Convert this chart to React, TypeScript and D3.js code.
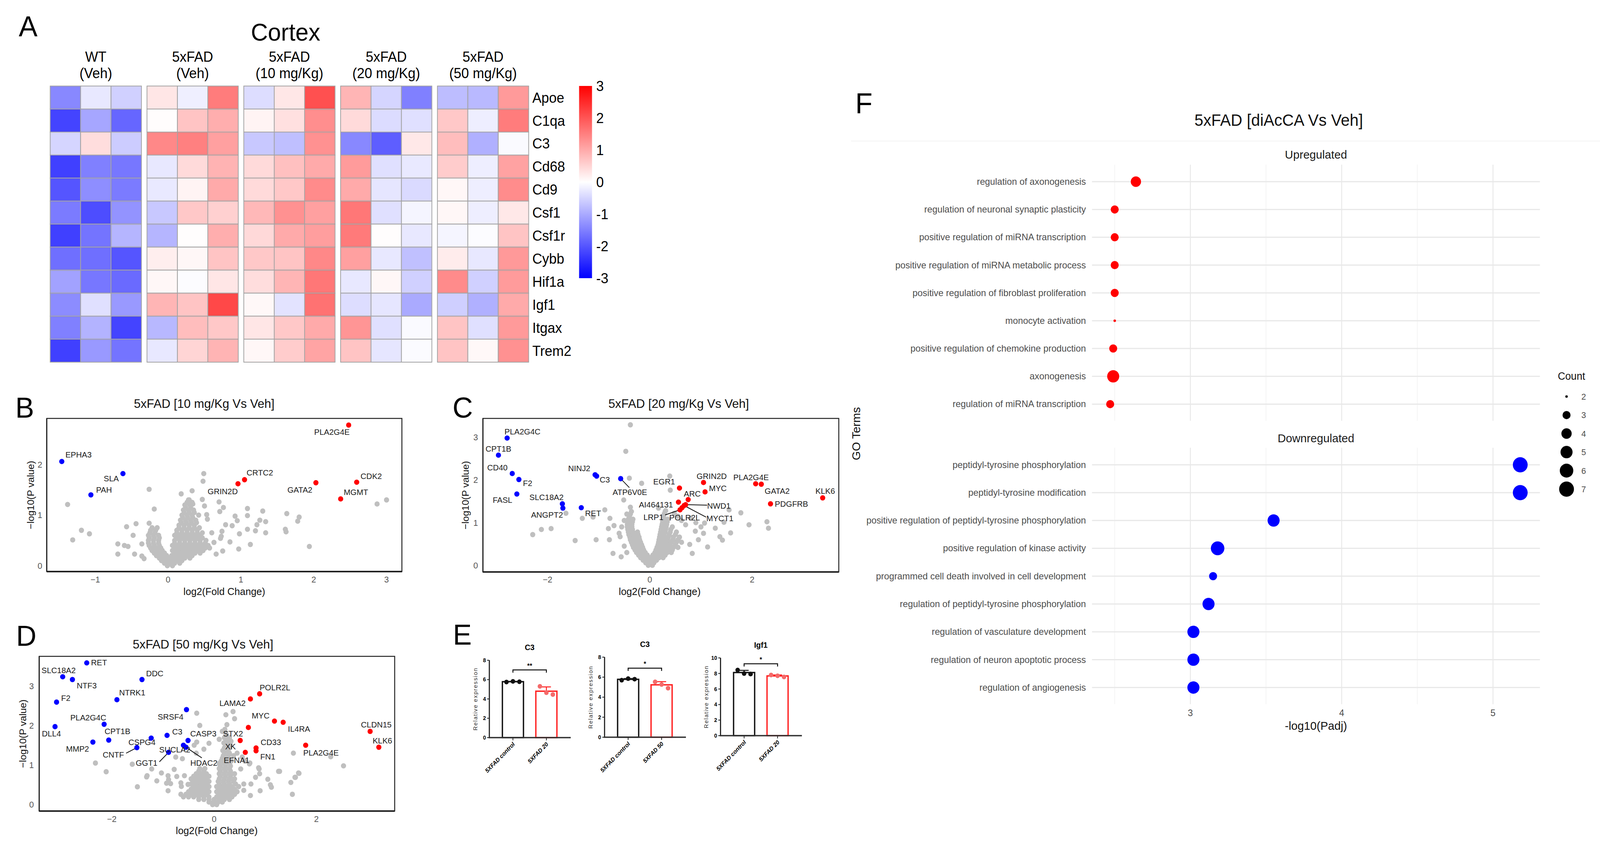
import * as d3 from "d3";

const FONT = "'Liberation Sans', Arial, Helvetica, sans-serif";

// ---------------- A: heatmap (row z-scores) ----------------
const genes = ["Apoe", "C1qa", "C3", "Cd68", "Cd9", "Csf1", "Csf1r", "Cybb", "Hif1a", "Igf1", "Itgax", "Trem2"];
const groupLine1 = ["WT", "5xFAD", "5xFAD", "5xFAD", "5xFAD"];
const groupLine2 = ["(Veh)", "(Veh)", "(10 mg/Kg)", "(20 mg/Kg)", "(50 mg/Kg)"];
// 15 samples per gene: 3 per group in the order above
const zscores = [
  [-1.4, -0.27, -0.55, 0.3, -0.19, 1.54, -0.4, 0.28, 2.06, 0.87, -0.5, -1.5, -0.78, -0.82, 1.19],
  [-2.2, -1.05, -1.8, 0.02, 0.7, 0.95, 0.13, 0.36, 1.33, 0.43, -0.41, -0.36, 0.65, -0.2, 1.54],
  [-0.5, 0.4, -0.6, 1.4, 1.5, 1.12, -0.65, -0.75, 1.3, -1.4, -1.9, 0.27, 0.78, -0.93, -0.06],
  [-2.25, -1.5, -1.6, -0.27, 0.43, 0.9, 0.43, 0.74, 1.0, 1.18, -0.36, -0.26, 0.6, -0.2, 1.1],
  [-2.0, -1.33, -1.55, -0.26, 0.13, 1.0, 0.43, 0.65, 1.37, 1.0, -0.3, -0.43, 0.1, -0.2, 1.35],
  [-1.55, -2.1, -1.27, -0.65, 0.65, 0.55, 0.83, 1.3, 1.12, 1.6, -0.36, -0.12, 0.1, -0.2, 0.27],
  [-2.25, -1.64, -0.87, -0.87, 0.02, 0.95, 0.45, 1.0, 1.14, 1.56, 0.02, -0.27, -0.12, -0.03, 0.7],
  [-1.7, -1.7, -2.0, 0.2, 0.1, 0.7, 0.65, 0.7, 1.4, 1.12, -0.27, -0.74, 0.22, -0.27, 1.2],
  [-1.1, -1.6, -1.75, 0.1, -0.03, 0.3, 0.4, 0.87, 1.6, -0.27, 0.1, -0.55, 1.37, -0.55, 1.18],
  [-1.35, -0.36, -1.2, 0.87, 0.7, 2.15, 0.08, -0.33, 1.66, -0.4, -0.3, -1.0, -0.56, -0.93, 1.0],
  [-1.5, -0.9, -2.2, -0.83, 0.78, 0.65, 0.3, 0.65, 1.0, 1.25, -0.36, -0.06, 0.7, -0.36, 1.19],
  [-2.25, -1.2, -1.64, -0.27, 0.5, 0.88, 0.1, 0.6, 1.07, 0.7, -0.3, -0.05, 0.7, 0.08, 1.3],
];
const legendTicks = [3, 2, 1, 0, -1, -2, -3];

// ---------------- B/C/D: volcano plots ----------------
// [gene, log2FC, -log10 P]
const hitsB = [
  ["PLA2G4E", 2.48, 2.78], ["EPHA3", -1.46, 2.06], ["SLA", -0.62, 1.82], ["PAH", -1.06, 1.4],
  ["CRTC2", 1.05, 1.7], ["GRIN2D", 0.96, 1.62], ["GATA2", 2.03, 1.64], ["CDK2", 2.59, 1.65], ["MGMT", 2.37, 1.32],
];
const grayB = [
  [0.49, 1.82], [0.48, 1.67], [-0.26, 1.51], [0.33, 1.48], [0.18, 1.42], [-1.38, 1.21], [-0.19, 1.12], [0.7, 1.26],
  [0.47, 1.31], [1.09, 1.13], [1.09, 0.99], [1.3, 1.08], [1.63, 1.03], [1.8, 0.96], [1.78, 0.88], [2.87, 1.22],
  [3.0, 1.3], [-0.44, 0.83], [-0.26, 0.84], [-0.57, 0.77], [-1.19, 0.7], [-1.08, 0.63], [-1.31, 0.51], [-0.48, 0.6],
  [-0.69, 0.43], [-0.69, 0.23], [-0.36, 0.43], [1.61, 0.72], [1.62, 0.67], [1.34, 0.65], [1.34, 0.87], [1.26, 0.9],
  [1.22, 0.81], [1.2, 0.69], [1.09, 0.72], [0.98, 0.63], [0.97, 0.33], [0.85, 0.47], [1.13, 0.42], [1.94, 0.38],
  [0.92, 0.98], [0.95, 0.89], [0.79, 0.81], [0.88, 0.79], [0.74, 0.68], [0.73, 0.58], [0.76, 1.15], [0.71, 1.07],
  [0.5, 1.18], [0.53, 1.01], [0.54, 0.92], [0.6, 0.65], [0.72, 0.54], [0.63, 0.46], [0.75, 0.29], [0.66, 0.23],
  [0.57, 0.35], [0.34, 1.22], [0.28, 1.3], [-0.55, 0.38], [-0.46, 0.23], [-0.36, 0.19], [-0.33, 0.14], [-0.6, 0.4],
];
// dense centre of the cloud, row by row: [-log10 P, log2FC values]
const cloudB = [
  [0.0, [-0.01, 0.06]],
  [0.05, [-0.05, 0.02, 0.09, 0.16]],
  [0.1, [-0.09, -0.02, 0.05, 0.12, 0.19]],
  [0.15, [-0.12, -0.05, 0.02, 0.09, 0.16, 0.23, 0.3]],
  [0.2, [-0.16, -0.09, -0.02, 0.05, 0.12, 0.19, 0.26, 0.33]],
  [0.25, [-0.19, -0.12, -0.05, 0.09, 0.16, 0.23, 0.3, 0.37, 0.44]],
  [0.3, [-0.22, -0.15, -0.08, 0.06, 0.13, 0.2, 0.27, 0.34, 0.41, 0.48]],
  [0.35, [-0.24, -0.17, -0.1, 0.09, 0.16, 0.23, 0.3, 0.37, 0.44, 0.51]],
  [0.4, [-0.26, -0.19, -0.12, 0.06, 0.13, 0.2, 0.27, 0.34, 0.41, 0.48, 0.55]],
  [0.45, [-0.27, -0.2, -0.13, 0.09, 0.16, 0.23, 0.3, 0.37, 0.44, 0.51]],
  [0.5, [-0.27, -0.2, -0.13, 0.09, 0.16, 0.23, 0.3, 0.37, 0.44, 0.52]],
  [0.55, [-0.26, -0.19, -0.12, 0.12, 0.19, 0.26, 0.33, 0.4, 0.47]],
  [0.6, [-0.27, -0.2, -0.13, 0.09, 0.16, 0.23, 0.3, 0.37, 0.44]],
  [0.65, [-0.25, -0.18, 0.12, 0.19, 0.26, 0.33, 0.4, 0.47]],
  [0.7, [-0.24, -0.17, 0.12, 0.19, 0.26, 0.33, 0.4]],
  [0.75, [-0.22, -0.15, 0.15, 0.22, 0.29, 0.36, 0.43]],
  [0.8, [0.15, 0.22, 0.29, 0.36]],
  [0.85, [0.18, 0.25, 0.32, 0.39]],
  [0.9, [0.17, 0.24, 0.31, 0.38]],
  [0.95, [0.2, 0.27, 0.34]],
  [1.0, [0.19, 0.26, 0.33, 0.42]],
  [1.05, [0.22, 0.29, 0.36]],
  [1.1, [0.21, 0.28, 0.35]],
  [1.15, [0.24, 0.31]],
  [1.2, [0.23, 0.3]],
  [1.25, [0.26, 0.33]],
  [1.3, [0.29]],
];

const hitsC = [
  ["PLA2G4C", -2.79, 2.98], ["CPT1B", -2.96, 2.58], ["CD40", -2.69, 2.15], ["F2", -2.56, 2.01], ["FASL", -2.6, 1.67],
  ["SLC18A2", -1.71, 1.44], ["ANGPT2", -1.7, 1.34], ["RET", -1.34, 1.35], ["NINJ2", -1.07, 2.12], ["C3", -1.04, 2.09],
  ["ATP6V0E", -0.57, 2.03], ["EGR1", 0.58, 1.81], ["GRIN2D", 1.05, 1.94], ["MYC", 1.08, 1.72], ["PLA2G4E", 2.07, 1.91],
  ["GATA2", 2.18, 1.9], ["KLK6", 3.38, 1.58], ["PDGFRB", 2.36, 1.44], ["ARC", 0.75, 1.54], ["AI464131", 0.56, 1.48],
  ["NWD1", 0.7, 1.42], ["LRP1", 0.59, 1.3], ["POLR2L", 0.63, 1.35], ["MYCT1", 0.67, 1.4],
];
const grayC = [
  [-0.38, 3.29], [-0.47, 2.67], [-0.4, 2.04], [-0.16, 1.92], [0.39, 2.09], [0.4, 1.76], [-0.51, 1.53], [-1.64, 1.22],
  [-1.32, 1.1], [-0.88, 1.3], [-0.78, 1.1], [-0.7, 0.93], [-0.81, 0.86], [-2.12, 0.84], [-1.93, 0.86], [-2.29, 0.72],
  [-1.46, 0.58], [-1.05, 0.6], [-0.79, 0.6], [-1.11, 1.13], [1.55, 1.3], [1.78, 1.23], [1.94, 0.95], [2.29, 1.02],
  [2.32, 0.87], [1.58, 0.76], [1.42, 0.59], [1.37, 0.67], [1.28, 0.87], [1.45, 1.01], [1.07, 0.99], [1.13, 0.43],
  [0.89, 0.8], [0.83, 0.28], [0.78, 0.49], [-0.72, 0.28], [-0.56, 0.2], [-0.58, 0.67], [0.17, 1.34], [0.31, 1.28],
  [-0.38, 1.36], [0.55, 1.15], [0.62, 1.05], [0.7, 0.95], [0.48, 1.22], [0.8, 1.1], [0.9, 1.0], [1.0, 0.9],
  [0.95, 0.6], [1.05, 0.75], [-0.45, 1.2], [-0.5, 1.05], [-0.55, 0.9], [-0.6, 0.75], [-0.5, 0.45], [-0.45, 0.3],
];
const cloudC = [
  [0.0, [-0.03, 0.05]],
  [0.06, [-0.08, 0.0, 0.08]],
  [0.12, [-0.13, -0.05, 0.05, 0.13]],
  [0.18, [-0.18, -0.1, 0.0, 0.1, 0.18, 0.26]],
  [0.24, [-0.22, -0.13, -0.05, 0.06, 0.14, 0.22, 0.3]],
  [0.3, [-0.26, -0.17, -0.09, 0.1, 0.18, 0.26, 0.34, 0.42]],
  [0.36, [-0.29, -0.2, -0.12, 0.12, 0.2, 0.28, 0.36, 0.44]],
  [0.42, [-0.32, -0.23, -0.14, 0.14, 0.22, 0.3, 0.38, 0.46, 0.55]],
  [0.48, [-0.34, -0.25, -0.16, 0.16, 0.24, 0.32, 0.4, 0.5]],
  [0.54, [-0.36, -0.27, -0.18, 0.17, 0.25, 0.33, 0.42, 0.52, 0.62]],
  [0.6, [-0.38, -0.29, -0.2, 0.18, 0.26, 0.35, 0.45, 0.55]],
  [0.66, [-0.39, -0.3, -0.21, 0.19, 0.27, 0.36, 0.46, 0.58]],
  [0.72, [-0.41, -0.32, -0.23, 0.2, 0.28, 0.38, 0.5]],
  [0.78, [-0.42, -0.33, -0.24, 0.21, 0.3, 0.4, 0.52]],
  [0.84, [-0.43, -0.34, 0.22, 0.31, 0.41]],
  [0.9, [-0.44, -0.35, 0.23, 0.32, 0.44]],
  [0.96, [-0.44, -0.35, 0.24, 0.33]],
  [1.02, [-0.43, -0.34, 0.25, 0.34]],
  [1.08, [-0.42, -0.33, 0.26, 0.35]],
  [1.14, [-0.4, 0.27]],
  [1.2, [-0.38, 0.28]],
  [1.26, [-0.36, 0.3]],
];

const hitsD = [
  ["RET", -2.49, 3.58], ["SLC18A2", -2.96, 3.23], ["NTF3", -2.77, 3.16], ["DDC", -1.41, 3.16], ["NTRK1", -1.9, 2.65],
  ["F2", -3.08, 2.59], ["SRSF4", -0.54, 2.4], ["PLA2G4C", -2.15, 2.03], ["DLL4", -3.11, 1.97], ["C3", -0.92, 1.75],
  ["CPT1B", -2.06, 1.63], ["CSPG4", -1.23, 1.68], ["MMP2", -2.37, 1.58], ["CASP3", -0.51, 1.62], ["CNTF", -1.51, 1.44],
  ["SUCLA2", -0.6, 1.5], ["HDAC2", -0.55, 1.45], ["GGT1", -0.89, 1.32],
  ["POLR2L", 0.89, 2.8], ["LAMA2", 0.71, 2.67], ["MYC", 1.18, 2.11], ["IL4RA", 1.35, 2.08], ["STX2", 0.67, 1.95],
  ["CLDN15", 3.05, 1.85], ["KLK6", 3.22, 1.45], ["XK", 0.51, 1.62], ["CD33", 0.82, 1.43], ["FN1", 0.82, 1.36],
  ["EFNA1", 0.61, 1.32], ["PLA2G4E", 1.79, 1.5],
];
const grayD = [
  [-0.34, 2.31], [0.23, 2.27], [0.37, 2.35], [0.4, 2.17], [-0.28, 2.0], [0.25, 2.02], [0.21, 1.9], [-2.32, 1.05],
  [-2.11, 0.83], [-1.6, 1.02], [-1.22, 0.9], [-1.32, 0.7], [-1.03, 0.8], [-1.12, 0.6], [-0.75, 1.2], [-0.62, 1.16],
  [1.55, 1.3], [2.28, 1.21], [2.53, 0.98], [1.65, 0.8], [1.58, 0.69], [1.26, 0.84], [1.05, 0.64], [0.87, 0.93],
  [0.7, 1.05], [-1.31, 0.73], [-0.89, 0.63], [-0.64, 0.46], [1.5, 0.56], [0.16, 1.85], [0.25, 1.75], [0.1, 1.65],
  [0.33, 1.6], [-0.1, 1.55], [-0.2, 1.4], [0.45, 1.3], [0.55, 1.2], [0.6, 1.1], [-0.35, 1.3], [1.1, 0.5],
  [0.9, 0.35], [-0.9, 0.35], [-1.5, 0.45], [-0.78, 0.89], [-0.9, 0.73], [-0.73, 0.71], [-0.58, 0.73], [-0.93, 0.54],
  [-0.85, 0.53], [-0.65, 0.55], [-0.51, 0.51], [0.88, 0.9], [0.89, 0.78], [0.81, 0.69], [1.12, 0.44], [1.28, 0.84],
  [1.59, 0.69], [1.66, 0.79], [1.53, 0.26], [0.71, 0.23], [0.58, 0.36], [0.72, 0.52], [0.58, 0.52], [0.52, 0.9],
  [0.69, 1.03], [-0.39, 1.5], [-0.34, 1.58],
];
const cloudD = [
  [0.0, [-0.03, 0.05]],
  [0.065, [-0.1, -0.01, 0.08, 0.16]],
  [0.13, [-0.3, -0.2, -0.1, 0.0, 0.1, 0.2, 0.3]],
  [0.195, [-0.6, -0.5, -0.4, -0.3, -0.2, -0.1, 0.05, 0.15, 0.25, 0.35]],
  [0.26, [-0.65, -0.55, -0.45, -0.35, -0.25, -0.15, 0.1, 0.2, 0.3, 0.4]],
  [0.325, [-0.5, -0.4, -0.3, -0.2, -0.1, 0.05, 0.15, 0.25, 0.35, 0.45]],
  [0.39, [-0.45, -0.35, -0.25, -0.15, 0.1, 0.2, 0.3, 0.4]],
  [0.455, [-0.4, -0.3, -0.2, -0.1, 0.05, 0.15, 0.25, 0.35, 0.48]],
  [0.52, [-0.45, -0.35, -0.25, -0.15, 0.1, 0.2, 0.3, 0.42]],
  [0.585, [-0.4, -0.3, -0.2, -0.1, 0.08, 0.18, 0.28, 0.38]],
  [0.65, [-0.45, -0.35, -0.25, -0.15, 0.1, 0.2, 0.3, 0.4]],
  [0.715, [-0.4, -0.3, -0.2, -0.1, 0.12, 0.22, 0.32]],
  [0.78, [-0.35, -0.25, -0.15, 0.1, 0.2, 0.3, 0.4]],
  [0.845, [-0.3, -0.2, 0.12, 0.22, 0.32]],
  [0.91, [-0.28, -0.18, 0.1, 0.2, 0.3]],
  [0.975, [0.12, 0.22, 0.32]],
  [1.04, [0.1, 0.2, 0.3]],
  [1.105, [0.14, 0.24, 0.34]],
  [1.17, [0.16, 0.26]],
  [1.235, [0.18, 0.28, 0.38]],
  [1.3, [0.2, 0.3]],
  [1.365, [0.17, 0.27]],
  [1.43, [0.2, 0.3]],
  [1.495, [0.22, 0.32]],
  [1.56, [0.19, 0.29]],
  [1.625, [0.24]],
  [1.69, [0.2, 0.3]],
  [1.82, [0.22]],
];

// label anchor points (data units) and leader-line starts
const labelsB = {
  PLA2G4E: [2.25, 2.64], EPHA3: [-1.23, 2.19], SLA: [-0.78, 1.72], PAH: [-0.88, 1.5], CRTC2: [1.26, 1.84],
  GRIN2D: [0.75, 1.47], GATA2: [1.81, 1.5], CDK2: [2.79, 1.77], MGMT: [2.58, 1.45],
};
const labelsC = {
  PLA2G4C: [-2.49, 3.13], CPT1B: [-2.96, 2.73], CD40: [-2.98, 2.29], F2: [-2.39, 1.92], FASL: [-2.88, 1.53],
  SLC18A2: [-2.02, 1.59], ANGPT2: [-2.01, 1.18], RET: [-1.11, 1.22], NINJ2: [-1.38, 2.27], C3: [-0.88, 2.0],
  ATP6V0E: [-0.39, 1.71], EGR1: [0.28, 1.96], GRIN2D: [1.21, 2.09], MYC: [1.33, 1.8], PLA2G4E: [1.98, 2.06],
  GATA2: [2.49, 1.74], KLK6: [3.43, 1.74], PDGFRB: [2.77, 1.44], ARC: [0.83, 1.67], AI464131: [0.12, 1.42],
  NWD1: [1.35, 1.39], LRP1: [0.07, 1.13], POLR2L: [0.68, 1.12], MYCT1: [1.37, 1.1],
};
const leadersC = [["ATP6V0E", -0.4, 1.82], ["NWD1", 1.12, 1.41], ["LRP1", 0.3, 1.18], ["MYCT1", 1.1, 1.13]];
const labelsD = {
  RET: [-2.25, 3.59], SLC18A2: [-3.04, 3.39], NTF3: [-2.49, 3.01], DDC: [-1.16, 3.31], NTRK1: [-1.6, 2.83],
  F2: [-2.9, 2.69], SRSF4: [-0.85, 2.22], PLA2G4C: [-2.46, 2.2], DLL4: [-3.18, 1.79], C3: [-0.72, 1.84],
  CPT1B: [-1.89, 1.85], CSPG4: [-1.41, 1.57], CASP3: [-0.21, 1.79], MMP2: [-2.67, 1.41], CNTF: [-1.97, 1.26],
  SUCLA2: [-0.77, 1.39], GGT1: [-1.32, 1.05], HDAC2: [-0.2, 1.05], POLR2L: [1.19, 2.96], LAMA2: [0.36, 2.56],
  MYC: [0.91, 2.25], IL4RA: [1.66, 1.91], STX2: [0.37, 1.79], CLDN15: [3.17, 2.02], KLK6: [3.29, 1.61],
  XK: [0.32, 1.47], CD33: [1.11, 1.57], EFNA1: [0.44, 1.12], FN1: [1.05, 1.21], PLA2G4E: [2.09, 1.31],
};
const leadersD = [["CNTF", -1.72, 1.3], ["GGT1", -1.07, 1.08], ["HDAC2", -0.24, 1.18]];

// ---------------- E: qPCR bars ----------------
const qpcrTitles = ["C3", "C3", "Igf1"];
const qpcrGroups = [
  ["5XFAD control", "5XFAD 20"],
  ["5XFAD control", "5XFAD 50"],
  ["5XFAD control", "5XFAD 20"],
];
const qpcrControl = [[5.75, 5.82, 5.78], [5.7, 5.85, 5.8], [8.44, 7.99, 7.93]];
const qpcrTreated = [[5.3, 4.65, 4.45], [5.53, 5.27, 4.9], [7.8, 7.7, 7.55]];
const qpcrMax = [8, 8, 10];
const qpcrSig = ["**", "*", "*"];
const qpcrBracket = [7.0, 6.9, 9.25];

// ---------------- F: GO enrichment ----------------
const upTerms = [
  "regulation of axonogenesis", "regulation of neuronal synaptic plasticity", "positive regulation of miRNA transcription",
  "positive regulation of miRNA metabolic process", "positive regulation of fibroblast proliferation", "monocyte activation",
  "positive regulation of chemokine production", "axonogenesis", "regulation of miRNA transcription",
];
const upPadj = [2.64, 2.5, 2.5, 2.5, 2.5, 2.5, 2.49, 2.49, 2.47];
const upCount = [4, 3, 3, 3, 3, 2, 3, 5, 3];
const downTerms = [
  "peptidyl-tyrosine phosphorylation", "peptidyl-tyrosine modification", "positive regulation of peptidyl-tyrosine phosphorylation",
  "positive regulation of kinase activity", "programmed cell death involved in cell development",
  "regulation of peptidyl-tyrosine phosphorylation", "regulation of vasculature development",
  "regulation of neuron apoptotic process", "regulation of angiogenesis",
];
const downPadj = [5.18, 5.18, 3.55, 3.18, 3.15, 3.12, 3.02, 3.02, 3.02];
const downCount = [7, 7, 5, 6, 3, 5, 5, 5, 5];
const countBreaks = [2, 3, 4, 5, 6, 7];

function Heatmap() {
  const gx = d3.scaleBand().domain(d3.range(5)).range([132, 1390.4]).paddingInner(0.0574);
  const cx = d3.scaleBand().domain(d3.range(3)).range([0, gx.bandwidth()]);
  const ry = d3.scaleBand().domain(genes).range([220.2, 927]);
  const color = d3.scaleLinear().domain([-3, 0, 3]).range(["#0000ff", "#ffffff", "#ff0000"]);
  const ly = d3.scaleLinear().domain([-3, 3]).range([712, 220]);
  return (
    <g fontFamily={FONT}>
      <defs>
        <linearGradient id="hmgrad" x1="0" y1="0" x2="0" y2="1">
          <stop offset="0%" stopColor="#ff0000" />
          <stop offset="50%" stopColor="#ffffff" />
          <stop offset="100%" stopColor="#0000ff" />
        </linearGradient>
      </defs>
      <text x={751} y={104} fontSize={62} textAnchor="middle">Cortex</text>
      {groupLine1.map((t, g) => (
        <g key={g}>
          <text x={gx(g) + gx.bandwidth() / 2} y={158} fontSize={36} textAnchor="middle">{t}</text>
          <text x={gx(g) + gx.bandwidth() / 2} y={200} fontSize={36} textAnchor="middle">{groupLine2[g]}</text>
        </g>
      ))}
      {zscores.map((row, r) =>
        row.map((v, i) => {
          const g = Math.floor(i / 3);
          return (
            <rect key={`${r}-${i}`} x={gx(g) + cx(i % 3)} y={ry(genes[r])} width={cx.bandwidth()} height={ry.bandwidth()}
              fill={color(v)} stroke="#a3a3a3" strokeWidth={2} />
          );
        })
      )}
      {genes.map((gname) => (
        <text key={gname} x={1400} y={ry(gname) + ry.bandwidth() / 2 + 13} fontSize={36}>{gname}</text>
      ))}
      <rect x={1523} y={220} width={34} height={492} fill="url(#hmgrad)" />
      {legendTicks.map((t) => (
        <text key={t} x={1568} y={ly(t) + 13} fontSize={36}>{t}</text>
      ))}
    </g>
  );
}

function Volcano({ cfg }) {
  const x = d3.scaleLinear().domain(cfg.xDomain).range([cfg.left, cfg.right]);
  const y = d3.scaleLinear().domain(cfg.yDomain).range([cfg.bottom, cfg.top]);
  const gray = [...cfg.gray, ...cfg.cloud.flatMap(([p, fcs]) => fcs.map((fc) => [fc, p]))];
  const byGene = new Map(cfg.hits.map((h) => [h[0], h]));
  const midY = (cfg.top + cfg.bottom) / 2;
  const fmt = (v) => (v < 0 ? `\u2212${Math.abs(v)}` : `${v}`);
  return (
    <g fontFamily={FONT}>
      <text x={cfg.titleX} y={cfg.titleY} fontSize={32} textAnchor="middle" fill="#111">{cfg.title}</text>
      {gray.map((d, i) => (
        <circle key={i} cx={x(d[0])} cy={y(d[1])} r={6.8} fill="#bfbfbf" />
      ))}
      {cfg.leaders.map(([gname, lx, ly]) => {
        const h = byGene.get(gname);
        return <line key={gname} x1={x(lx)} y1={y(ly)} x2={x(h[1])} y2={y(h[2])} stroke="#111" strokeWidth={2} />;
      })}
      {cfg.hits.map((h) => (
        <circle key={h[0]} cx={x(h[1])} cy={y(h[2])} r={6.8} fill={h[1] > 0 ? "#ff0000" : "#0000ff"} />
      ))}
      {Object.entries(cfg.labels).map(([gname, [lx, ly]]) => (
        <text key={gname} x={x(lx)} y={y(ly) + 7} fontSize={21} textAnchor="middle" fill="#1a1a1a">{gname}</text>
      ))}
      <rect x={cfg.left} y={cfg.top} width={cfg.right - cfg.left} height={cfg.bottom - cfg.top} fill="none" stroke="#222" strokeWidth={2.5} />
      <line x1={cfg.left} x2={cfg.right} y1={cfg.bottom} y2={cfg.bottom} stroke="#222" strokeWidth={4} />
      <line x1={cfg.left} x2={cfg.left} y1={cfg.top} y2={cfg.bottom} stroke="#222" strokeWidth={3} />
      {cfg.xTicks.map((t) => (
        <text key={t} x={x(t)} y={cfg.xLabelY} fontSize={22} textAnchor="middle" fill="#555">{fmt(t)}</text>
      ))}
      {cfg.yTicks.map((t) => (
        <text key={t} x={cfg.yLabelX} y={y(t) + 8} fontSize={22} textAnchor="middle" fill="#555">{t}</text>
      ))}
      <text x={cfg.xTitleX} y={cfg.xTitleY} fontSize={26} textAnchor="middle" fill="#111">log2(Fold Change)</text>
      <text transform={`translate(${cfg.yTitleX},${midY}) rotate(-90)`} fontSize={25} textAnchor="middle" dy={9} fill="#111">
        {"\u2212log10(P value)"}
      </text>
    </g>
  );
}

const volcanoB = {
  title: "5xFAD [10 mg/Kg Vs Veh]", titleX: 537, titleY: 1044,
  left: 123, right: 1057, top: 1071, bottom: 1463, xDomain: [-1.666, 3.211], yDomain: [-0.116, 2.911],
  xTicks: [-1, 0, 1, 2, 3], yTicks: [0, 1, 2], xLabelY: 1491, yLabelX: 105, xTitleX: 590, xTitleY: 1523, yTitleX: 80,
  hits: hitsB, gray: grayB, cloud: cloudB, labels: labelsB, leaders: [],
};
const volcanoC = {
  title: "5xFAD [20 mg/Kg Vs Veh]", titleX: 1785, titleY: 1044,
  left: 1270, right: 2206, top: 1071, bottom: 1464, xDomain: [-3.264, 3.695], yDomain: [-0.155, 3.44],
  xTicks: [-2, 0, 2], yTicks: [0, 1, 2, 3], xLabelY: 1491, yLabelX: 1251, xTitleX: 1735, xTitleY: 1523, yTitleX: 1224,
  hits: hitsC, gray: grayC, cloud: cloudC, labels: labelsC, leaders: leadersC,
};
const volcanoD = {
  title: "5xFAD [50 mg/Kg Vs Veh]", titleX: 534, titleY: 1660,
  left: 103, right: 1038, top: 1680, bottom: 2076, xDomain: [-3.42, 3.53], yDomain: [-0.163, 3.746],
  xTicks: [-2, 0, 2], yTicks: [0, 1, 2, 3], xLabelY: 2104, yLabelX: 83, xTitleX: 570, xTitleY: 2135, yTitleX: 60,
  hits: hitsD, gray: grayD, cloud: cloudD, labels: labelsD, leaders: leadersD,
};

const qpcrLayout = [
  { axisX: 1287, y0: 1888, yTop: 1690 },
  { axisX: 1590, y0: 1887, yTop: 1682 },
  { axisX: 1895, y0: 1883, yTop: 1684 },
];

function QpcrPlot({ i }) {
  const { axisX, y0, yTop } = qpcrLayout[i];
  const x = d3.scaleBand().domain(qpcrGroups[i]).range([axisX, axisX + 212]).paddingInner(0.37).paddingOuter(0.39);
  const y = d3.scaleLinear().domain([0, qpcrMax[i]]).range([y0, yTop]);
  const ticks = d3.range(0, qpcrMax[i] + 1, 2);
  const sets = [qpcrControl[i], qpcrTreated[i]];
  const strokes = ["#111", "#ff2020"];
  const dotFill = ["#111", "#f46a6a"];
  const c0 = x(qpcrGroups[i][0]) + x.bandwidth() / 2;
  const c1 = x(qpcrGroups[i][1]) + x.bandwidth() / 2;
  const yb = y(qpcrBracket[i]);
  return (
    <g fontFamily={FONT}>
      <text x={(c0 + c1) / 2} y={yTop - 26} fontSize={20} fontWeight="bold" textAnchor="middle">{qpcrTitles[i]}</text>
      {sets.map((vals, k) => {
        const g = qpcrGroups[i][k];
        const m = d3.mean(vals);
        const sd = d3.deviation(vals);
        const cx = x(g) + x.bandwidth() / 2;
        return (
          <g key={k}>
            <rect x={x(g)} y={y(m)} width={x.bandwidth()} height={y0 - y(m)} fill="white" stroke={strokes[k]} strokeWidth={3.5} />
            <line x1={cx} x2={cx} y1={y(m + sd)} y2={y(m)} stroke={strokes[k]} strokeWidth={2.5} />
            <line x1={cx - 12} x2={cx + 12} y1={y(m + sd)} y2={y(m + sd)} stroke={strokes[k]} strokeWidth={2.5} />
            {vals.map((v, j) => (
              <circle key={j} cx={cx + (j - 1) * 17} cy={y(v)} r={6} fill={dotFill[k]} />
            ))}
          </g>
        );
      })}
      <path d={`M${c0},${yb + 7}V${yb}H${c1}V${yb + 7}`} fill="none" stroke="#111" strokeWidth={2.5} />
      <text x={(c0 + c1) / 2} y={yb - 5} fontSize={17} fontWeight="bold" textAnchor="middle">{qpcrSig[i]}</text>
      <line x1={axisX} x2={axisX} y1={y0} y2={yTop} stroke="#222" strokeWidth={3} />
      <line x1={axisX - 2} x2={axisX + 214} y1={y0} y2={y0} stroke="#333" strokeWidth={3.5} />
      {ticks.map((t) => (
        <g key={t}>
          <line x1={axisX - 6} x2={axisX} y1={y(t)} y2={y(t)} stroke="#222" strokeWidth={2} />
          <text x={axisX - 9} y={y(t) + 5} fontSize={14} fontWeight="bold" textAnchor="end">{t}</text>
        </g>
      ))}
      {qpcrGroups[i].map((g) => {
        const cx = x(g) + x.bandwidth() / 2;
        return (
          <g key={g}>
            <line x1={cx} x2={cx} y1={y0} y2={y0 + 7} stroke="#222" strokeWidth={2} />
            <text transform={`translate(${cx + 6},${y0 + 18}) rotate(-45)`} fontSize={15} fontWeight="bold" fontStyle="italic" textAnchor="end">{g}</text>
          </g>
        );
      })}
      <text transform={`translate(${axisX - 32},${(y0 + yTop) / 2}) rotate(-90)`} fontSize={15} letterSpacing={1.6} textAnchor="middle" fill="#333">
        Relative expression
      </text>
    </g>
  );
}

function GoPanel() {
  const x = d3.scaleLinear().domain([2.35, 5.31]).range([2872, 4050]);
  const yUp = d3.scalePoint().domain(upTerms).range([465, 1034.4]);
  const yDown = d3.scalePoint().domain(downTerms).range([1189.7, 1759.8]);
  const t = d3.scaleLinear().domain([2, 7]).range([0, 1]);
  // ggplot-style area scale: radius grows with sqrt of the rescaled count
  const rad = (v) => 3.25 * (1 + 5 * Math.sqrt(t(v)));
  const legendY = d3.scalePoint().domain(countBreaks).range([1015, 1252]);
  const panels = [
    { terms: upTerms, padj: upPadj, count: upCount, y: yUp, top: 421.5, bottom: 1077, strip: "Upregulated", stripY: 406, fill: "#ff0000" },
    { terms: downTerms, padj: downPadj, count: downCount, y: yDown, top: 1146, bottom: 1802.6, strip: "Downregulated", stripY: 1132, fill: "#0000ff" },
  ];
  return (
    <g fontFamily={FONT}>
      <line x1={2238} x2={4208} y1={361} y2={361} stroke="#f3f3f3" strokeWidth={2} />
      <text x={3363} y={322} fontSize={42} textAnchor="middle" fill="#111">5xFAD [diAcCA Vs Veh]</text>
      {panels.map((p) => (
        <g key={p.strip}>
          <text x={3461} y={p.stripY} fontSize={30} textAnchor="middle" fill="#1a1a1a">{p.strip}</text>
          {[2.5, 3.5, 4.5].map((v) => (
            <line key={v} x1={x(v)} x2={x(v)} y1={p.top} y2={p.bottom} stroke="#f0f0f0" strokeWidth={1.4} />
          ))}
          {[3, 4, 5].map((v) => (
            <line key={v} x1={x(v)} x2={x(v)} y1={p.top} y2={p.bottom} stroke="#e8e8e8" strokeWidth={2.4} />
          ))}
          {p.terms.map((term) => (
            <line key={term} x1={2872} x2={4050} y1={p.y(term)} y2={p.y(term)} stroke="#e8e8e8" strokeWidth={3} />
          ))}
          {p.terms.map((term) => (
            <text key={term} x={2856} y={p.y(term) + 8} fontSize={24} textAnchor="end" fill="#4d4d4d">{term}</text>
          ))}
          {p.terms.map((term, i) => (
            <circle key={term} cx={x(p.padj[i])} cy={p.y(term)} r={rad(p.count[i])} fill={p.fill} />
          ))}
        </g>
      ))}
      {[3, 4, 5].map((v) => (
        <text key={v} x={x(v)} y={1833} fontSize={24} textAnchor="middle" fill="#4d4d4d">{v}</text>
      ))}
      <text x={3461} y={1868} fontSize={30} textAnchor="middle" fill="#111">-log10(Padj)</text>
      <text transform="translate(2262,1110) rotate(-90)" fontSize={30} textAnchor="middle" fill="#111">GO Terms</text>
      <text x={4097} y={972} fontSize={27} fill="#111">Count</text>
      {countBreaks.map((c) => (
        <g key={c}>
          <circle cx={4120} cy={legendY(c)} r={rad(c)} fill="#000" />
          <text x={4159} y={legendY(c) + 8} fontSize={22} fill="#4d4d4d">{c}</text>
        </g>
      ))}
    </g>
  );
}

export default function App() {
  const letters = [["A", 74, 93], ["B", 65, 1069], ["C", 1217, 1069], ["D", 69, 1653], ["E", 1216, 1650], ["F", 2272, 290]];
  return (
    <svg viewBox="0 0 4208 2168" preserveAspectRatio="none"
      style={{ position: "fixed", left: 0, top: 0, width: "100vw", height: "100vh", display: "block", background: "#fff" }}>
      <rect width={4208} height={2168} fill="#fff" />
      {letters.map(([l, lx, ly]) => (
        <text key={l} x={lx} y={ly} fontSize={74} textAnchor="middle" fontFamily={FONT}>{l}</text>
      ))}
      <Heatmap />
      <Volcano cfg={volcanoB} />
      <Volcano cfg={volcanoC} />
      <Volcano cfg={volcanoD} />
      {[0, 1, 2].map((i) => <QpcrPlot key={i} i={i} />)}
      <GoPanel />
    </svg>
  );
}
